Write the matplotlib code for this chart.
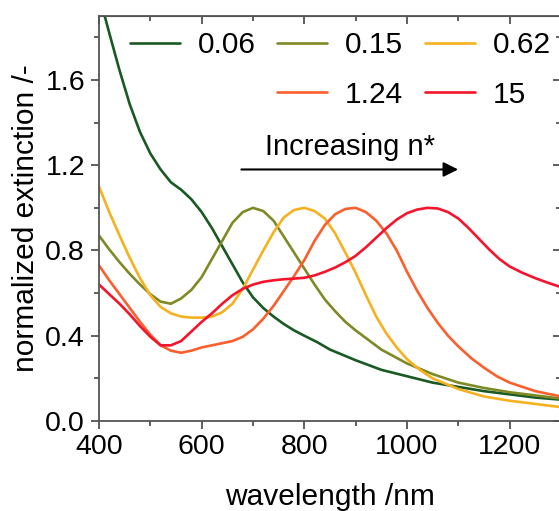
import numpy as np
import matplotlib.pyplot as plt
from matplotlib.lines import Line2D

plt.rcParams['font.family'] = ['Liberation Sans', 'DejaVu Sans']
plt.rcParams['font.size'] = 21.5

# normalized extinction spectra for different n*
wl_006 = [400, 420, 440, 460, 480, 500, 520, 540, 560, 580, 600, 620, 640, 660, 680, 700,
          720, 740, 760, 780, 800, 825, 850, 875, 900, 950, 1000, 1050, 1100, 1150, 1200,
          1250, 1300]
ext_006 = [2.0, 1.82, 1.645, 1.485, 1.355, 1.255, 1.18, 1.12, 1.085, 1.04, 0.98, 0.905, 0.82,
           0.735, 0.65, 0.58, 0.53, 0.49, 0.455, 0.425, 0.40, 0.37, 0.335, 0.31, 0.285, 0.24,
           0.21, 0.18, 0.16, 0.14, 0.125, 0.11, 0.10]

wl_015 = [400, 420, 440, 460, 480, 500, 520, 540, 560, 580, 600, 620, 640, 660, 680, 700, 720,
          740, 760, 780, 800, 820, 840, 860, 880, 900, 925, 950, 1000, 1050, 1100, 1150, 1200,
          1250, 1300]
ext_015 = [0.87, 0.805, 0.745, 0.69, 0.64, 0.595, 0.56, 0.55, 0.575, 0.615, 0.675, 0.76, 0.845,
           0.93, 0.98, 1.0, 0.985, 0.94, 0.865, 0.79, 0.715, 0.64, 0.57, 0.515, 0.465, 0.425,
           0.38, 0.335, 0.27, 0.22, 0.18, 0.155, 0.135, 0.12, 0.105]

wl_062 = [400, 420, 440, 460, 480, 500, 520, 540, 560, 580, 600, 620, 640, 660, 680, 700, 720,
          740, 760, 780, 800, 820, 840, 860, 880, 900, 920, 940, 960, 980, 1000, 1025, 1050,
          1100, 1150, 1200, 1250, 1300]
ext_062 = [1.10, 0.98, 0.87, 0.765, 0.67, 0.59, 0.535, 0.505, 0.49, 0.485, 0.485, 0.49, 0.51,
           0.55, 0.62, 0.71, 0.80, 0.885, 0.955, 0.99, 1.0, 0.985, 0.95, 0.88, 0.79, 0.695,
           0.59, 0.49, 0.41, 0.345, 0.29, 0.24, 0.20, 0.15, 0.115, 0.095, 0.08, 0.065]

wl_124 = [400, 420, 440, 460, 480, 500, 520, 540, 560, 580, 600, 620, 640, 660, 680, 700, 720,
          740, 760, 780, 800, 820, 840, 860, 880, 900, 920, 940, 960, 980, 1000, 1020, 1040,
          1060, 1080, 1100, 1125, 1150, 1175, 1200, 1250, 1300]
ext_124 = [0.73, 0.66, 0.595, 0.53, 0.465, 0.405, 0.355, 0.33, 0.32, 0.33, 0.345, 0.355, 0.365,
           0.375, 0.395, 0.43, 0.48, 0.54, 0.61, 0.68, 0.755, 0.845, 0.92, 0.97, 0.995, 1.0,
           0.98, 0.94, 0.88, 0.80, 0.70, 0.61, 0.53, 0.46, 0.40, 0.35, 0.295, 0.25, 0.21, 0.18,
           0.14, 0.115]

wl_15 = [400, 420, 440, 460, 480, 500, 520, 540, 560, 580, 600, 620, 640, 660, 680, 700, 720,
         740, 760, 780, 800, 820, 840, 860, 880, 900, 920, 940, 960, 980, 1000, 1020, 1040, 1060,
         1080, 1100, 1120, 1140, 1160, 1180, 1200, 1225, 1250, 1275, 1300]
ext_15 = [0.64, 0.595, 0.55, 0.50, 0.445, 0.395, 0.355, 0.355, 0.375, 0.42, 0.465, 0.505, 0.55,
          0.59, 0.62, 0.64, 0.653, 0.66, 0.665, 0.668, 0.672, 0.683, 0.70, 0.72, 0.745, 0.775,
          0.815, 0.86, 0.905, 0.945, 0.975, 0.992, 1.0, 0.997, 0.98, 0.95, 0.905, 0.855, 0.805,
          0.76, 0.725, 0.695, 0.67, 0.648, 0.628]

colors = ['#185a22', '#7f8a26', '#f6b121', '#fa5f2d', '#f5142c']

fig = plt.figure(figsize=(5.59, 5.11), dpi=100)
ax = fig.add_axes([99 / 559, 1 - 421 / 511, 462 / 559, 405 / 511])

kw = dict(lw=1.9, solid_joinstyle='round', solid_capstyle='round')
l1, = ax.plot(wl_006, ext_006, color=colors[0], **kw)
l2, = ax.plot(wl_015, ext_015, color=colors[1], **kw)
l3, = ax.plot(wl_062, ext_062, color=colors[2], **kw)
l4, = ax.plot(wl_124, ext_124, color=colors[3], **kw)
l5, = ax.plot(wl_15, ext_15, color=colors[4], **kw)

xmaj = [400, 600, 800, 1000, 1200]
xmin = [500, 700, 900, 1100, 1300]
ymaj = [0.0, 0.4, 0.8, 1.2, 1.6]
ymin = [0.2, 0.6, 1.0, 1.4, 1.8]

ax.set_xlim(400, 1300)
ax.set_ylim(0, 1.9)
ax.set_xticks(xmaj)
ax.set_xticks(xmin, minor=True)
ax.set_yticks(ymaj)
ax.set_yticks(ymin, minor=True)
ax.yaxis.set_major_formatter(plt.FormatStrFormatter('%.1f'))
ax.tick_params(which='major', direction='out', length=6, width=1.2, color='#444444',
               labelsize=20.5, pad=3)
ax.tick_params(axis='y', which='major', pad=4)
ax.tick_params(which='minor', direction='out', length=3.5, width=1.2, color='#444444')
for s in ax.spines.values():
    s.set_color('#555555')
    s.set_linewidth(1.3)

# mirrored ticks pointing inwards on top and right
top = ax.secondary_xaxis('top')
top.set_xticks(xmaj)
top.set_xticks(xmin, minor=True)
top.tick_params(which='major', direction='in', length=6, width=1.2, color='#444444', labeltop=False)
top.tick_params(which='minor', direction='in', length=3.5, width=1.2, color='#444444')
top.spines['top'].set_color('#555555')
right = ax.secondary_yaxis('right')
right.set_yticks(ymaj)
right.set_yticks(ymin, minor=True)
right.tick_params(which='major', direction='in', length=6, width=1.2, color='#444444', labelright=False)
right.tick_params(which='minor', direction='in', length=3.5, width=1.2, color='#444444')

ax.set_xlabel('wavelength /nm', labelpad=17)
ax.set_ylabel('normalized extinction /-', labelpad=4)

blank = Line2D([], [], color='none')
ax.legend([l1, blank, l2, l4, l3, l5], ['0.06', '', '0.15', '1.24', '0.62', '15'],
          ncol=3, frameon=False, loc='upper left',
          bbox_to_anchor=(130 / 559, 1 - 31 / 511), bbox_transform=fig.transFigure,
          borderpad=0, borderaxespad=0, handlelength=1.67, handletextpad=0.6,
          columnspacing=0.72, labelspacing=0.72)

ax.annotate('', xy=(1105, 1.18), xytext=(672, 1.18),
            arrowprops=dict(arrowstyle='-|>', color='black', lw=1.5, mutation_scale=22))
ax.text(889, 1.285, 'Increasing n*', ha='center', va='center', fontsize=21)

fig.savefig('out.png', dpi=100)
